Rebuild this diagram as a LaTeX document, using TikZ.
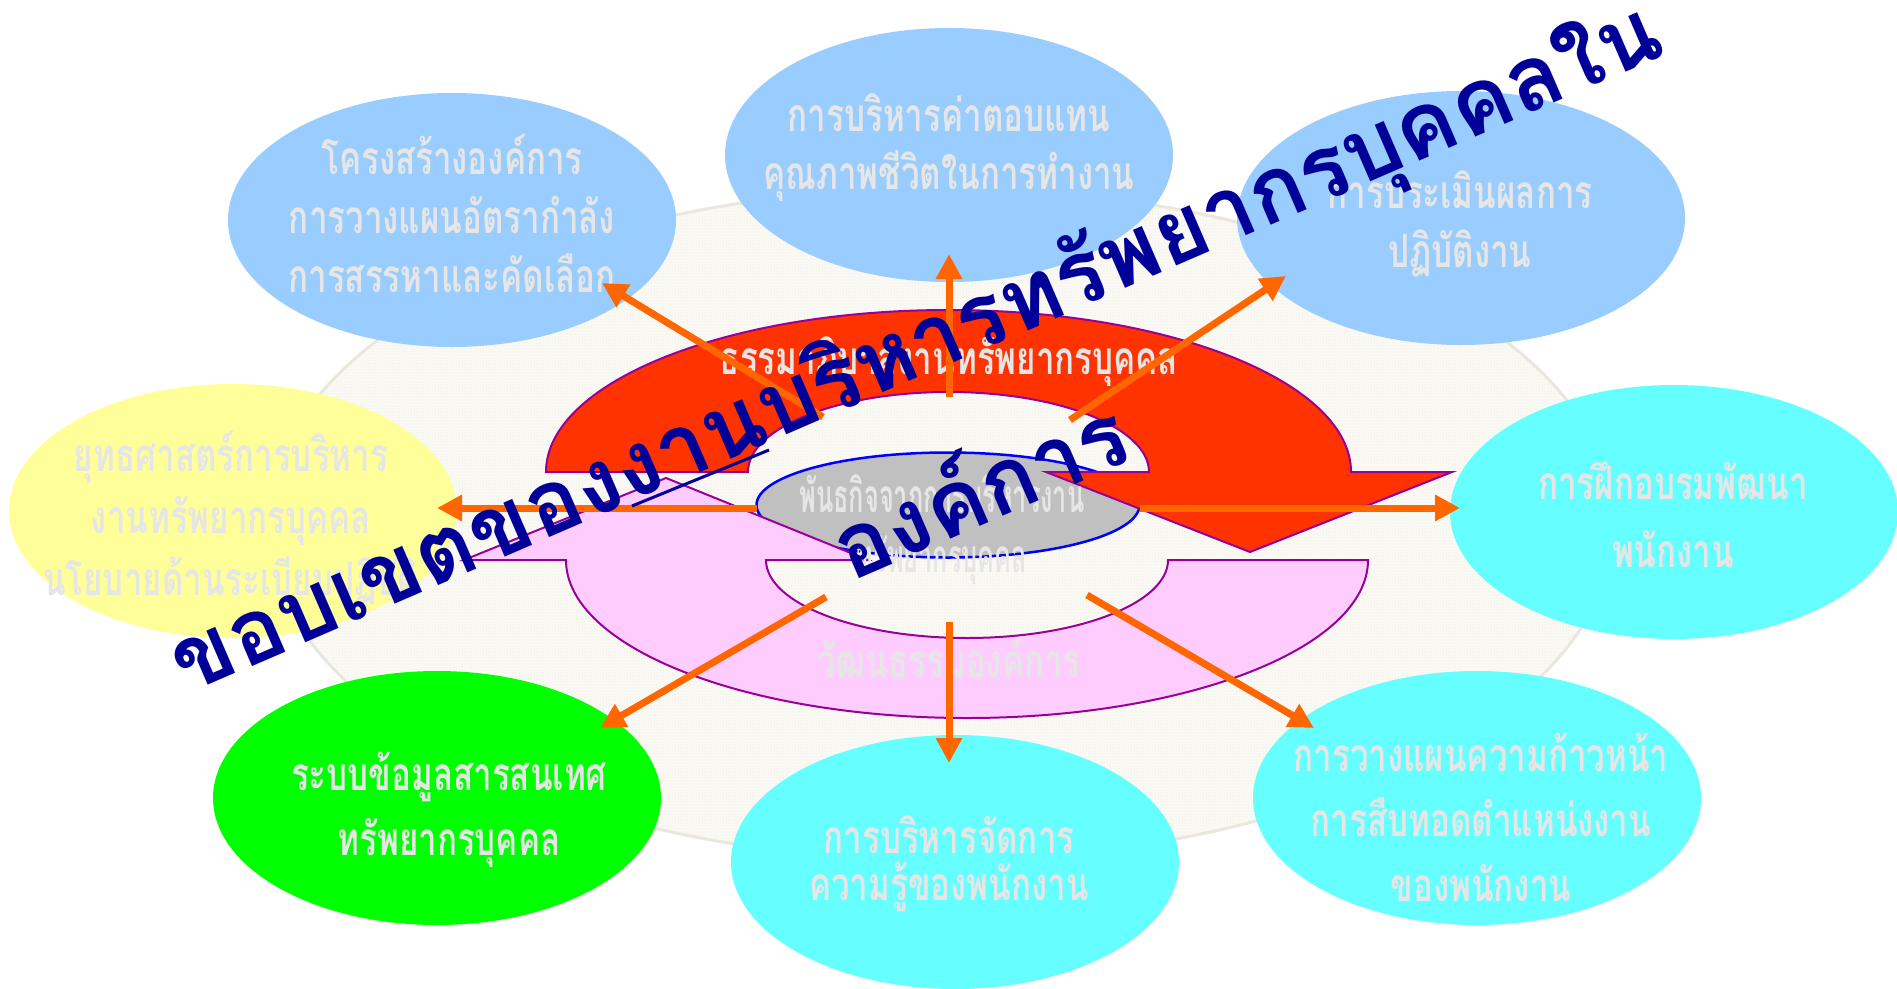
\documentclass[tikz,border=0pt]{standalone}
\usepackage{fontspec}
\newfontfamily\thai[Script=Thai,FakeStretch=0.72]{Loma}
\newfontfamily\thaiN[Script=Thai,FakeStretch=0.55]{Loma}
\newfontfamily\thaiT[Script=Thai]{Loma}
\usetikzlibrary{shapes.geometric,arrows.meta,patterns}
\definecolor{bluec}{HTML}{99CCFF}
\definecolor{yellc}{HTML}{FFFF99}
\definecolor{cyanc}{HTML}{66FFFF}
\definecolor{greenc}{HTML}{00FF00}
\definecolor{txtgray}{HTML}{E6E6E6}
\definecolor{redc}{HTML}{FF3300}
\definecolor{pinkc}{HTML}{FFCCFF}
\definecolor{purp}{HTML}{990099}
\definecolor{grayc}{HTML}{C0C0C0}
\definecolor{orng}{HTML}{FF6600}
\definecolor{navy}{HTML}{000099}
\definecolor{bgfill}{HTML}{FAF9F4}
\definecolor{bgdot}{HTML}{E9E6DC}
\definecolor{bgline}{HTML}{EAE7DC}
\newcommand\tl[1]{\raisebox{0pt}[\fontcharht\font`ก][0pt]{#1}}
\tikzset{
  ell/.style={ellipse, minimum width=448, minimum height=254, inner sep=0pt, outer sep=0pt},
  lbl/.style={text=txtgray, align=center, inner sep=0pt, font=\thai\bfseries\fontsize{46}{#1}\selectfont},
  lbl/.default=60,
  oarrow/.style={draw=orng, line width=7pt, -{Triangle[length=25pt,width=25pt]}},
  band/.style={draw=purp, line width=2pt, line join=miter},
  ttl/.style={text=navy, inner sep=0pt, rotate=23.4, font=\thaiT\bfseries\fontsize{90}{100}\selectfont}
}
\begin{document}
\begin{tikzpicture}[x=1pt,y=1pt]
\useasboundingbox (0,0) rectangle (1897,-988);
\fill[white] (0,0) rectangle (1897,-988);
% background disc
\node[ellipse, minimum width=1346, minimum height=672, inner sep=0pt,
      preaction={fill=bgfill}, pattern=dots, pattern color=bgdot,
      draw=bgline, line width=3pt] (bg) at (941,-524) {};
% central mission ellipse
\node[ellipse, minimum width=383, minimum height=105, inner sep=0pt,
      fill=grayc, draw=blue, line width=2.5pt] (g) at (948,-505) {};
% pink curved arrow (bottom, pointing up on the left)
\draw[band, fill=pinkc] (1368,-560) arc[start angle=0,end angle=-180,x radius=401,y radius=158]
  -- (464,-560) -- (666,-478) -- (868,-560) -- (766,-560)
  arc[start angle=180,end angle=360,x radius=201,y radius=78] -- cycle;
% red curved arrow (top, pointing down on the right)
\draw[band, fill=redc] (546,-472) arc[start angle=180,end angle=0,x radius=402.5,y radius=162]
  -- (1452,-472) -- (1250,-552) -- (1046,-472) -- (1149,-472)
  arc[start angle=0,end angle=180,x radius=200.5,y radius=80] -- cycle;
% texts on the rings
\node[lbl] (tred) at (949,-362) {\tl{ธรรมาภิบาลงานทรัพยากรบุคคล}};
\node[lbl] (tpink) at (949,-665) {\tl{วัฒนธรรมองค์การ}};
\node[text=txtgray, align=center, inner sep=0pt, font=\thaiN\bfseries\fontsize{46}{60}\selectfont] (tg) at (942,-530)
  {\tl{พันธกิจจากการบริหารงาน}\\\tl{ทรัพยากรบุคคล}};
% outer ellipses
\node[ell, fill=bluec]  (e1) at (452,-220) {};
\node[ell, fill=bluec]  (e2) at (949,-155) {};
\node[ell, fill=bluec]  (e3) at (1461,-218) {};
\node[ell, fill=yellc]  (e4) at (233,-511) {};
\node[ell, fill=cyanc]  (e5) at (1674,-512) {};
\node[ell, fill=greenc] (e6) at (437,-798) {};
\node[ell, fill=cyanc]  (e7) at (955,-862) {};
\node[ell, fill=cyanc]  (e8) at (1477,-798) {};
\node[lbl=59] (t1) at (452,-221) {\tl{โครงสร้างองค์การ}\\\tl{การวางแผนอัตรากำลัง}\\\tl{การสรรหาและคัดเลือก}};
\node[lbl=58] (t2) at (949,-148) {\tl{การบริหารค่าตอบแทน}\\\tl{คุณภาพชีวิตในการทำงาน}};
\node[lbl=59] (t3) at (1460,-225) {\tl{การประเมินผลการ}\\\tl{ปฏิบัติงาน}};
\node[lbl=62] (t4) at (231,-521) {\tl{ยุทธศาสตร์การบริหาร}\\\tl{งานทรัพยากรบุคคล}\\\tl{นโยบายด้านระเบียบปฏิบัติ}};
\node[lbl=68] (t5) at (1673,-521) {\tl{การฝึกอบรมพัฒนา}\\\tl{พนักงาน}};
\node[lbl=65] (t6) at (449,-810) {\tl{ระบบข้อมูลสารสนเทศ}\\\tl{ทรัพยากรบุคคล}};
\node[lbl=47] (t7) at (949,-864) {\tl{การบริหารจัดการ}\\\tl{ความรู้ของพนักงาน}};
\node[lbl=65] (t8) at (1481,-824) {\tl{การวางแผนความก้าวหน้า}\\\tl{การสืบทอดตำแหน่งงาน}\\\tl{ของพนักงาน}};
% orange arrows
\coordinate (sU)  at (949,-397);  \coordinate (hU)  at (949,-254);
\coordinate (sUL) at (823,-417);  \coordinate (hUL) at (602,-283);
\coordinate (sUR) at (1070,-420); \coordinate (hUR) at (1286,-276);
\coordinate (sL)  at (757,-508);  \coordinate (hL)  at (437,-508);
\coordinate (sR)  at (1140,-508); \coordinate (hR)  at (1460,-508);
\coordinate (sDL) at (826,-597);  \coordinate (hDL) at (600,-728);
\coordinate (sD)  at (949,-622);  \coordinate (hD)  at (949,-763);
\coordinate (sDR) at (1087,-595); \coordinate (hDR) at (1314,-728);
\draw[oarrow] (sU) -- (hU);
\draw[oarrow] (sUL) -- (hUL);
\draw[oarrow] (sUR) -- (hUR);
\draw[oarrow] (sL) -- (hL);
\draw[oarrow] (sR) -- (hR);
\draw[oarrow] (sDL) -- (hDL);
\draw[oarrow] (sD) -- (hD);
\draw[oarrow] (sDR) -- (hDR);
% thin navy stroke
\coordinate (nA) at (632,-506); \coordinate (nB) at (769,-450);
\draw[navy, line width=3pt] (nA) -- (nB);
% title
\node[ttl] (title1) at (917,-351) {\tl{ขอบเขตของงานบริหารทรัพยากรบุคคลใน}};
\node[ttl] (title2) at (983,-497) {\tl{องค์การ}};
\end{tikzpicture}
\end{document}
